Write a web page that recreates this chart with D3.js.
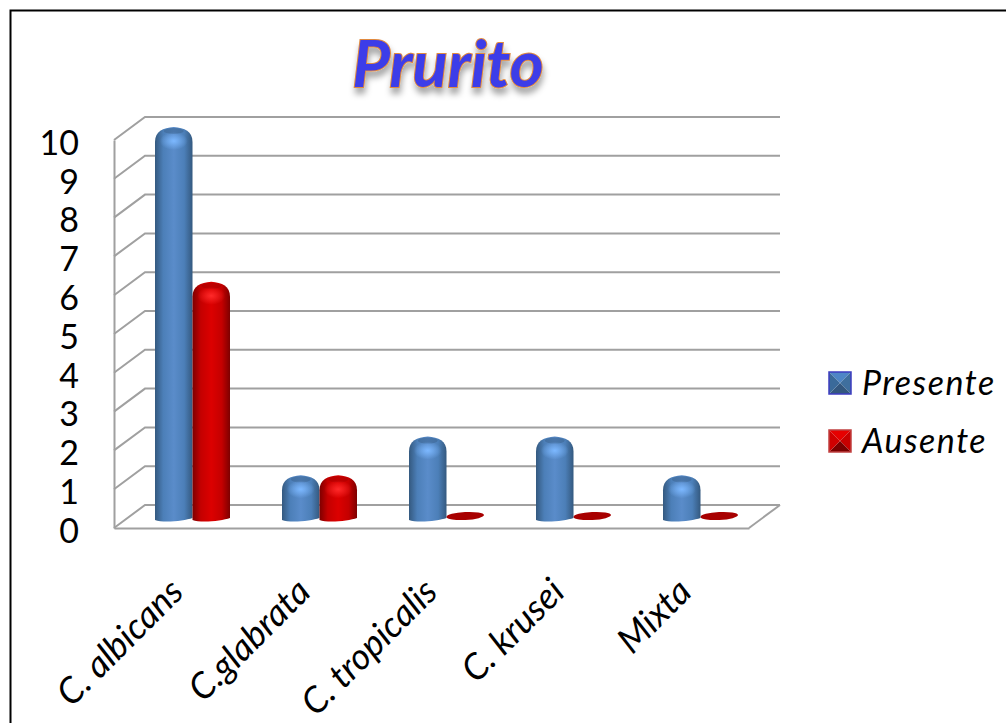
<!DOCTYPE html>
<html>
<head>
<meta charset="utf-8">
<script src="https://cdn.jsdelivr.net/npm/d3@7"></script>
<style>
    html, body {margin: 0; padding: 0; background: #fff; overflow: hidden;}
    text {font-family: Lato, "Open Sans", sans-serif; fill: #000;}
</style>
</head>
<body>
<div id="chart"></div>
<script>
const categories = ["C. albicans", "C.glabrata", "C. tropicalis", "C. krusei", "Mixta"];
const seriesNames = ["Presente", "Ausente"];
const presente = [10, 1, 2, 2, 1];
const ausente = [6, 1, 0, 0, 0];
const yTicks = [0, 1, 2, 3, 4, 5, 6, 7, 8, 9, 10];

const width = 1006, height = 723;
// depth of the fake 3d box
const depthX = 31, depthY = -23;

const svg = d3.select("#chart").append("svg")
    .attr("width", width)
    .attr("height", height)
    .style("display", "block");

const defs = svg.append("defs");

function cylinderGradient(id, edge, mid, centre) {
    const g = defs.append("linearGradient").attr("id", id);
    [[0, edge], [0.22, mid], [0.5, centre], [0.78, mid], [1, edge]].forEach(s => {
        g.append("stop").attr("offset", s[0]).attr("stop-color", s[1]);
    });
}
function glowGradient(id, colour) {
    const g = defs.append("radialGradient").attr("id", id);
    g.append("stop").attr("offset", 0).attr("stop-color", colour).attr("stop-opacity", 1);
    g.append("stop").attr("offset", 1).attr("stop-color", colour).attr("stop-opacity", 0);
}
cylinderGradient("blueBar", "#34597f", "#4c7fb8", "#5a8cca");
cylinderGradient("redBar", "#7d0000", "#c40000", "#dc0000");
glowGradient("blueGlow", "#7cb8ff");
glowGradient("redGlow", "#ff2a2a");

const titleFilter = defs.append("filter").attr("id", "titleShadow")
    .attr("x", "-10%").attr("y", "-20%").attr("width", "120%").attr("height", "150%");
titleFilter.append("feDropShadow")
    .attr("dx", 1).attr("dy", 6).attr("stdDeviation", 3)
    .attr("flood-color", "#000").attr("flood-opacity", 0.35);

// outer frame, right and bottom run off the page
svg.append("path")
    .attr("d", `M10.5,${height} V10.5 H${width}`)
    .attr("fill", "none")
    .attr("stroke", "#000")
    .attr("stroke-width", 2);

svg.append("text")
    .attr("x", 448)
    .attr("y", 87)
    .attr("text-anchor", "middle")
    .attr("font-size", 65)
    .attr("font-weight", 700)
    .attr("font-style", "italic")
    .attr("filter", "url(#titleShadow)")
    .style("fill", "#3c3ce8")
    .style("stroke", "#e08a40")
    .style("stroke-width", 2)
    .style("paint-order", "stroke")
    .text("Prurito");

const yFront = d3.scaleLinear().domain([0, 10]).range([528, 140]);
const yBar = d3.scaleLinear().domain([0, 10]).range([516, 129]);
const xCategory = d3.scaleBand().domain(categories).range([114, 749]);
const xSeries = d3.scaleBand().domain(seriesNames).range([41, 116]);

// walls
const box = svg.append("g")
    .attr("fill", "none")
    .attr("stroke", "#a0a0a0")
    .attr("stroke-width", 2);

box.selectAll("line.grid")
    .data(yTicks)
    .enter()
    .append("path")
    .attr("class", "grid")
    .attr("d", d => `M114,${yFront(d)} L${114 + depthX},${yFront(d) + depthY} H${749 + depthX}`);

box.append("path")
    .attr("d", `M749,528 L${749 + depthX},${528 + depthY}`);

// y axis
const yAxisG = svg.append("g")
    .attr("transform", "translate(114,0)")
    .call(d3.axisLeft(yFront).tickValues(yTicks).tickFormat(d3.format("d")).tickSize(0).tickPadding(35));
yAxisG.select(".domain").attr("stroke", "#a0a0a0").attr("stroke-width", 2);
yAxisG.selectAll("text")
    .attr("font-size", 34)
    .attr("dy", "0.42em");

// x axis
const xAxisG = svg.append("g")
    .attr("transform", "translate(0,528)")
    .call(d3.axisBottom(xCategory).tickSize(0).tickFormat(d => d));
xAxisG.select(".domain").attr("stroke", "#a0a0a0").attr("stroke-width", 2);
xAxisG.selectAll("text")
    .attr("font-size", 36)
    .attr("font-style", "italic")
    .attr("text-anchor", "end")
    .attr("x", 0)
    .attr("y", 0)
    .attr("dy", 0)
    .attr("transform", "translate(8,66) rotate(-45)");

function barPath(x, w, top, base) {
    const p = d3.path();
    const r = Math.min(13, (base - top) / 2);
    p.moveTo(x, base);
    p.lineTo(x, top + r + 2);
    p.bezierCurveTo(x, top + 4, x + 8, top + 1, x + w / 2, top);
    p.bezierCurveTo(x + w - 8, top + 1, x + w, top + 4, x + w, top + r + 2);
    p.lineTo(x + w, base - 2);
    p.bezierCurveTo(x + w - 8, base + 1, x + 8, base + 3, x, base);
    p.closePath();
    return p.toString();
}

const rows = categories.flatMap((c, i) => [
    {category: c, series: "Presente", value: presente[i], fill: "blueBar", glow: "blueGlow", cap: "#3c648f"},
    {category: c, series: "Ausente", value: ausente[i], fill: "redBar", glow: "redGlow", cap: "#a80000"}
]);

const bars = svg.append("g").selectAll("g")
    .data(rows)
    .enter()
    .append("g")
    .attr("transform", d => `translate(${xCategory(d.category) + xSeries(d.series)},0)`);

const w = xSeries.bandwidth();

bars.filter(d => d.value > 0).append("path")
    .attr("d", d => barPath(0, w, yBar(d.value) - 2, 520))
    .attr("fill", d => `url(#${d.fill})`);

bars.filter(d => d.value > 0).append("ellipse")
    .attr("cx", w / 2)
    .attr("cy", d => yBar(d.value) + 2)
    .attr("rx", 10)
    .attr("ry", 3)
    .attr("fill", d => d.cap)
    .attr("opacity", 0.55);

bars.filter(d => d.value > 0).append("ellipse")
    .attr("cx", w / 2)
    .attr("cy", d => yBar(d.value) + 12)
    .attr("rx", 14)
    .attr("ry", 9)
    .attr("fill", d => `url(#${d.glow})`);

bars.filter(d => d.value === 0).append("ellipse")
    .attr("cx", w / 2)
    .attr("cy", yBar(0))
    .attr("rx", w / 2)
    .attr("ry", 4)
    .attr("transform", `rotate(-3 ${w / 2} ${yBar(0)})`)
    .attr("fill", "#a80000");

// legend
const legend = svg.append("g").selectAll("g")
    .data(seriesNames)
    .enter()
    .append("g")
    .attr("transform", (d, i) => `translate(829,${372 + i * 58})`);

const swatchFaces = {
    Presente: ["#4f86c6", "#3f6f9e", "#33577f", "#3a6a9a", "#3c3cc0"],
    Ausente: ["#e60000", "#c80000", "#7a0000", "#d00000", "#c04040"]
};
[[0, 0, 22, 0], [22, 0, 22, 22], [22, 22, 0, 22], [0, 22, 0, 0]].forEach((f, k) => {
    legend.append("path")
        .attr("d", `M${f[0]},${f[1]} L${f[2]},${f[3]} L11,11 Z`)
        .attr("fill", d => swatchFaces[d][k]);
});
legend.append("rect")
    .attr("width", 22)
    .attr("height", 22)
    .attr("fill", "none")
    .attr("stroke", d => swatchFaces[d][4])
    .attr("stroke-width", 1.5);
legend.append("text")
    .attr("x", 33)
    .attr("y", 23)
    .attr("font-size", 34)
    .attr("font-style", "italic")
    .attr("letter-spacing", 1.5)
    .text(d => d);
</script>
</body>
</html>
